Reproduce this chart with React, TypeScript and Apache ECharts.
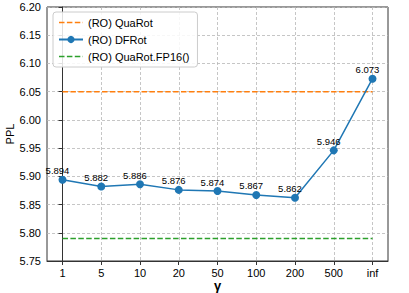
import React, { useEffect, useRef } from "react";
import * as echarts from "echarts";

const gammaLabels = ["1", "5", "10", "20", "50", "100", "200", "500", "inf"];
const dfrotPPL = [5.894, 5.882, 5.886, 5.876, 5.874, 5.867, 5.862, 5.946, 6.073];
const quarotPPL = 6.05;
const fp16PPL = 5.79;
const yTicks = { min: 5.75, max: 6.2, step: 0.05 };

const FONT = "Liberation Sans, Arial, Helvetica, sans-serif";
const GRID = { color: "#b8b8b8", type: [3, 2] as number[], width: 0.8 };
const DASH_ICON = "path://M0,0h5.5v1.5h-5.5z M7.9,0h5.5v1.5h-5.5z M15.8,0h5.5v1.5h-5.5z M23.7,0h0.3v1.5h-0.3z";

// plot frame (px)
const L = 47, R = 21, T = 7, B = 32, W = 409;
const PAD = 0.4; // category padding in axis units

export default function App() {
  const ref = useRef<HTMLDivElement>(null);
  useEffect(() => {
    if (!ref.current) return;
    const chart = echarts.init(ref.current, undefined, { renderer: "svg" });
    const idx = gammaLabels.map((_, i) => i);
    const last = gammaLabels.length - 1;
    const innerW = W - L - R;
    const padPx = (innerW * PAD) / (last + 2 * PAD);
    chart.setOption({
      animation: false,
      textStyle: { fontFamily: FONT },
      grid: [
        {
          left: L,
          right: R,
          top: T,
          bottom: B,
          containLabel: false,
          outerBoundsMode: "none",
          show: true,
          borderColor: "#333",
          borderWidth: 1,
          backgroundColor: "transparent",
        },
        {
          left: L + padPx,
          right: R + padPx,
          top: T,
          bottom: B,
          containLabel: false,
          outerBoundsMode: "none",
          show: false,
        },
      ],
      legend: {
        orient: "vertical",
        left: 53,
        top: 12,
        itemWidth: 24,
        itemHeight: 9,
        itemGap: 6,
        padding: [5, 8, 5, 5],
        backgroundColor: "rgba(255,255,255,0.85)",
        borderColor: "#ccc",
        borderWidth: 1,
        borderRadius: 3,
        textStyle: { fontSize: 11, color: "#000", fontFamily: FONT },
        data: [
          { name: "(RO) QuaRot", icon: DASH_ICON, itemStyle: { color: "#ff7f0e" } },
          { name: "(RO) DFRot" },
          { name: "(RO) QuaRot.FP16()", icon: DASH_ICON, itemStyle: { color: "#2ca02c" } },
        ],
      },
      xAxis: [
        {
          type: "value",
          gridIndex: 0,
          min: -PAD,
          max: last + PAD,
          name: "γ",
          nameLocation: "middle",
          nameGap: 18,
          nameMoveOverlap: false,
          nameTextStyle: { fontSize: 13, fontWeight: "bold", color: "#000" },
          axisLine: { show: true, onZero: false, lineStyle: { color: "#333" } },
          axisTick: {
            show: true,
            length: 4,
            customValues: idx,
            lineStyle: { color: "#333" },
          },
          axisLabel: {
            customValues: idx,
            formatter: (v: number) => gammaLabels[Math.round(v)] ?? "",
            fontSize: 11,
            color: "#000",
            margin: 6,
          },
          splitLine: { show: false },
        },
        {
          type: "value",
          gridIndex: 1,
          min: 0,
          max: last,
          interval: 1,
          axisLine: { show: false },
          axisTick: { show: false },
          axisLabel: { show: false },
          splitLine: { show: true, lineStyle: GRID },
        },
      ],
      yAxis: [
        {
          type: "value",
          gridIndex: 0,
          min: yTicks.min,
          max: yTicks.max,
          interval: yTicks.step,
          name: "PPL",
          nameLocation: "middle",
          nameGap: 32,
          nameMoveOverlap: false,
          nameTextStyle: { fontSize: 11, color: "#000" },
          axisLine: { show: true, lineStyle: { color: "#333" } },
          axisTick: { show: true, length: 4, lineStyle: { color: "#333" } },
          axisLabel: {
            fontSize: 11,
            color: "#000",
            margin: 6,
            formatter: (v: number) => v.toFixed(2),
          },
          splitLine: { show: true, lineStyle: GRID },
        },
        {
          type: "value",
          gridIndex: 1,
          min: yTicks.min,
          max: yTicks.max,
          show: false,
          splitLine: { show: false },
        },
      ],
      series: [
        {
          name: "(RO) QuaRot",
          type: "line",
          xAxisIndex: 0,
          yAxisIndex: 0,
          data: [
            [0, quarotPPL],
            [last, quarotPPL],
          ],
          symbol: "none",
          z: 3,
          itemStyle: { color: "#ff7f0e" },
          lineStyle: { color: "#ff7f0e", width: 1.5, type: [5.5, 2.4] },
        },
        {
          name: "(RO) DFRot",
          type: "line",
          xAxisIndex: 0,
          yAxisIndex: 0,
          data: dfrotPPL.map((v, i) => [i, v]),
          symbol: "circle",
          symbolSize: 8,
          itemStyle: { color: "#1f77b4" },
          lineStyle: { color: "#1f77b4", width: 1.5 },
          label: {
            show: true,
            position: "top",
            distance: 0,
            offset: [-5, 0],
            fontSize: 9.5,
            color: "#000",
            formatter: (p: any) => p.value[1].toFixed(3),
          },
          z: 5,
        },
        {
          name: "(RO) QuaRot.FP16()",
          type: "line",
          xAxisIndex: 0,
          yAxisIndex: 0,
          data: [
            [0, fp16PPL],
            [last, fp16PPL],
          ],
          symbol: "none",
          z: 3,
          itemStyle: { color: "#2ca02c" },
          lineStyle: { color: "#2ca02c", width: 1.5, type: [5.5, 2.4] },
        },
      ],
    });
    return () => chart.dispose();
  }, []);
  return (
    <div
      ref={ref}
      style={{ position: "fixed", left: 0, top: 0, width: 409, height: 293, background: "#fff" }}
    />
  );
}
